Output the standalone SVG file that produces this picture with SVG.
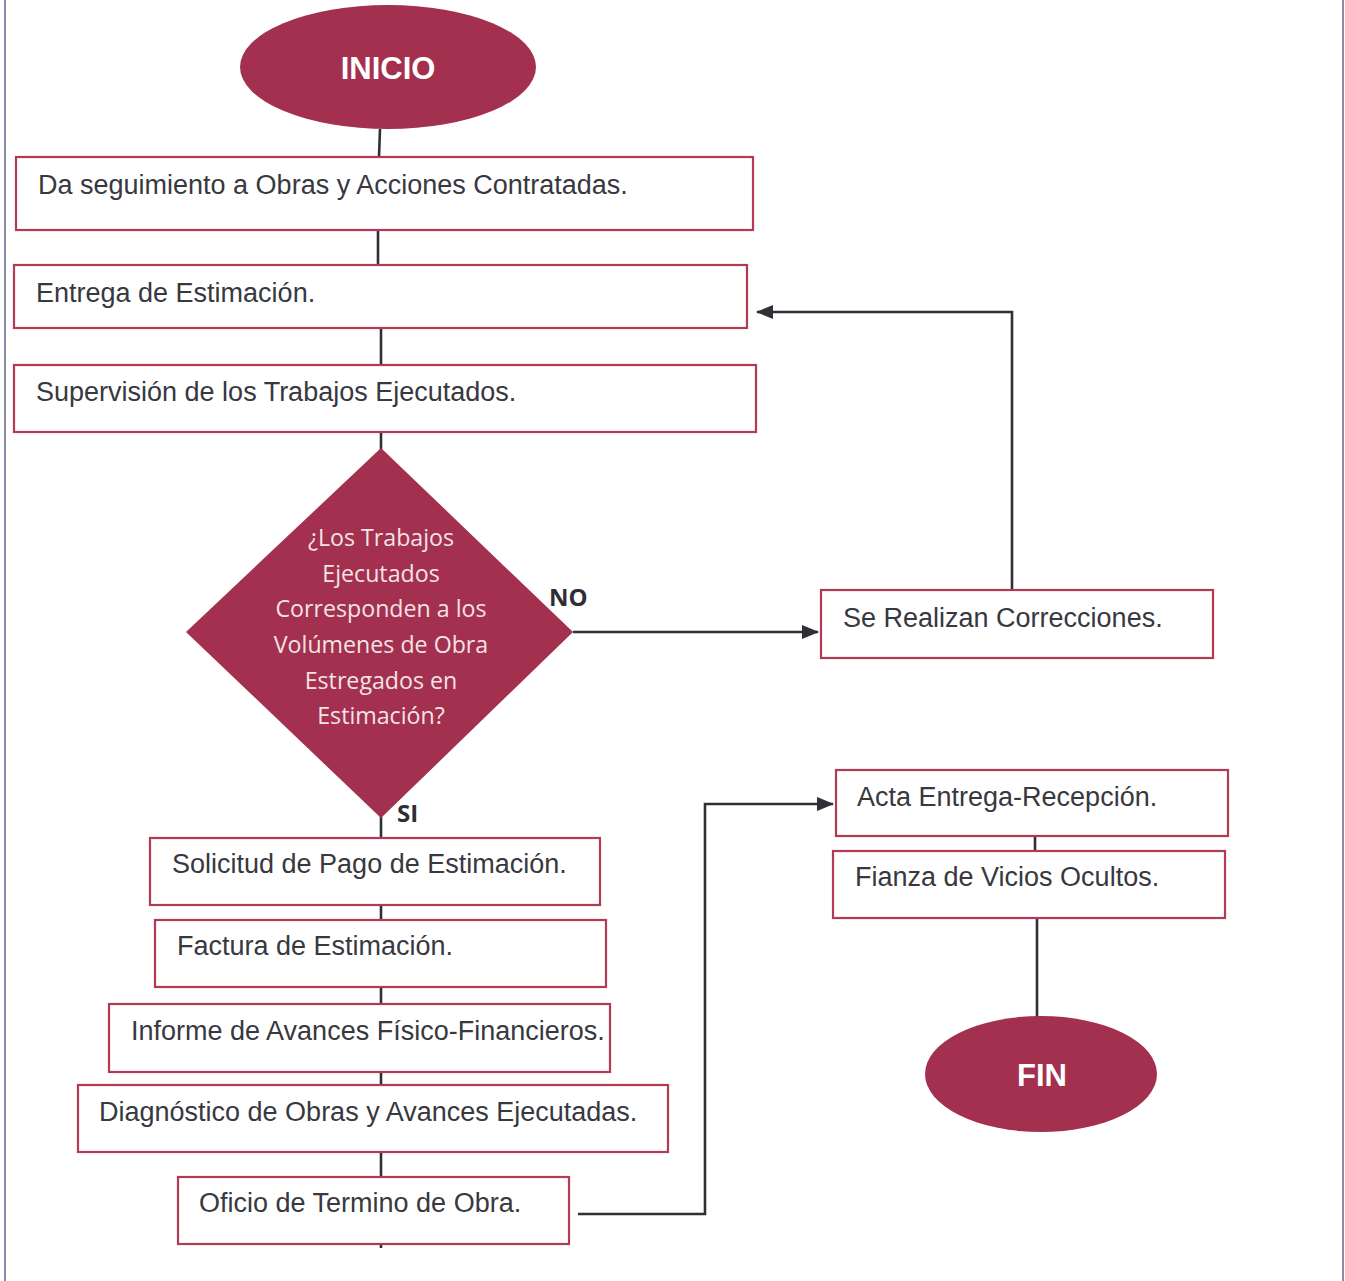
<svg xmlns="http://www.w3.org/2000/svg" width="1345" height="1281" viewBox="0 0 1345 1281">
  <style>
    .box { fill: #ffffff; stroke: #b23a55; stroke-width: 2.2; }
    .term { fill: #a3304f; }
    .lbl { font-family: "Liberation Sans", Arial, sans-serif; font-size: 27px; fill: #38383f; }
    .termtxt { font-family: "Liberation Sans", Arial, sans-serif; font-size: 31px; font-weight: bold; fill: #ffffff; text-anchor: middle; }
    .qtxt { font-family: "Open Sans", "Noto Sans", sans-serif; font-size: 23.2px; fill: #f3e3e6; text-anchor: middle; }
    .branch { font-family: "Open Sans", "Noto Sans", sans-serif; font-size: 24px; font-weight: bold; fill: #2e2e36; }
    .conn { fill: none; stroke: #2f2f36; stroke-width: 2.6; }
    .frame { stroke: #8a8aa6; stroke-width: 2; }
  </style>
  <defs>
    <marker id="arrow" markerWidth="17" markerHeight="14" refX="16" refY="7" orient="auto" markerUnits="userSpaceOnUse">
      <path d="M0,0 L17,7 L0,14 Z" fill="#2f2f36"/>
    </marker>
  </defs>

  <rect width="1345" height="1281" fill="#ffffff"/>

  <!-- page frame -->
  <line class="frame" x1="5" y1="0" x2="5" y2="1281"/>
  <line class="frame" x1="1343" y1="0" x2="1343" y2="1281"/>

  <!-- connectors -->
  <g id="connectors">
    <line class="conn" x1="380" y1="129" x2="379" y2="157"/>
    <line class="conn" x1="378" y1="230" x2="378" y2="265"/>
    <line class="conn" x1="381" y1="328" x2="381" y2="365"/>
    <line class="conn" x1="381" y1="432" x2="381" y2="450"/>
    <polyline class="conn" points="573,632 818,632" marker-end="url(#arrow)"/>
    <polyline class="conn" points="1012,590 1012,312 757,312" marker-end="url(#arrow)"/>
    <line class="conn" x1="381" y1="816" x2="381" y2="838"/>
    <line class="conn" x1="381" y1="905" x2="381" y2="920"/>
    <line class="conn" x1="381" y1="987" x2="381" y2="1004"/>
    <line class="conn" x1="381" y1="1072" x2="381" y2="1085"/>
    <line class="conn" x1="381" y1="1152" x2="381" y2="1177"/>
    <line class="conn" x1="381" y1="1244" x2="381" y2="1248"/>
    <polyline class="conn" points="578,1214 705,1214 705,804 833,804" marker-end="url(#arrow)"/>
    <line class="conn" x1="1035" y1="836" x2="1035" y2="851"/>
    <line class="conn" x1="1037" y1="918" x2="1037" y2="1018"/>
  </g>

  <g id="inicio">
    <ellipse class="term" cx="388" cy="67" rx="148" ry="62"/>
    <text class="termtxt" x="388" y="79">INICIO</text>
  </g>

  <g id="seguimiento">
    <rect class="box" x="16" y="157" width="737" height="73"/>
    <text class="lbl" x="38" y="194">Da seguimiento a Obras y Acciones Contratadas.</text>
  </g>

  <g id="entrega">
    <rect class="box" x="14" y="265" width="733" height="63"/>
    <text class="lbl" x="36" y="302">Entrega de Estimación.</text>
  </g>

  <g id="supervision">
    <rect class="box" x="14" y="365" width="742" height="67"/>
    <text class="lbl" x="36" y="401">Supervisión de los Trabajos Ejecutados.</text>
  </g>

  <g id="decision">
    <polygon class="term" points="381,448 573,632 381,818 186,632"/>
    <text class="qtxt" x="381" y="546">¿Los Trabajos</text>
    <text class="qtxt" x="381" y="582">Ejecutados</text>
    <text class="qtxt" x="381" y="617">Corresponden a los</text>
    <text class="qtxt" x="381" y="653">Volúmenes de Obra</text>
    <text class="qtxt" x="381" y="689">Estregados en</text>
    <text class="qtxt" x="381" y="724">Estimación?</text>
    <text class="branch" x="549" y="606">NO</text>
    <text class="branch" x="397" y="822">SI</text>
  </g>

  <g id="correcciones">
    <rect class="box" x="821" y="590" width="392" height="68"/>
    <text class="lbl" x="843" y="627">Se Realizan Correcciones.</text>
  </g>

  <g id="solicitud">
    <rect class="box" x="150" y="838" width="450" height="67"/>
    <text class="lbl" x="172" y="873">Solicitud de Pago de Estimación.</text>
  </g>

  <g id="factura">
    <rect class="box" x="155" y="920" width="451" height="67"/>
    <text class="lbl" x="177" y="955">Factura de Estimación.</text>
  </g>

  <g id="informe">
    <rect class="box" x="109" y="1004" width="501" height="68"/>
    <text class="lbl" x="131" y="1040">Informe de Avances Físico-Financieros.</text>
  </g>

  <g id="diagnostico">
    <rect class="box" x="78" y="1085" width="590" height="67"/>
    <text class="lbl" x="99" y="1121">Diagnóstico de Obras y Avances Ejecutadas.</text>
  </g>

  <g id="oficio">
    <rect class="box" x="178" y="1177" width="391" height="67"/>
    <text class="lbl" x="199" y="1212">Oficio de Termino de Obra.</text>
  </g>

  <g id="acta">
    <rect class="box" x="836" y="770" width="392" height="66"/>
    <text class="lbl" x="857" y="806">Acta Entrega-Recepción.</text>
  </g>

  <g id="fianza">
    <rect class="box" x="833" y="851" width="392" height="67"/>
    <text class="lbl" x="855" y="886">Fianza de Vicios Ocultos.</text>
  </g>

  <g id="fin">
    <ellipse class="term" cx="1041" cy="1074" rx="116" ry="58"/>
    <text class="termtxt" x="1042" y="1086">FIN</text>
  </g>
</svg>
